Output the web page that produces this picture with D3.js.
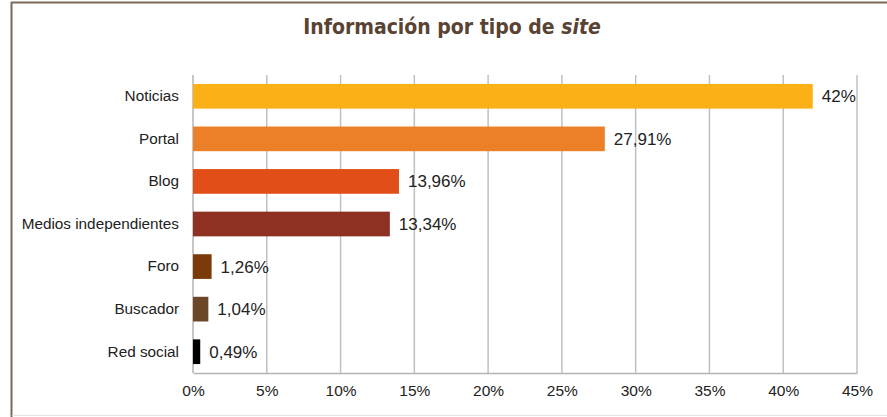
<!DOCTYPE html>
<html>
<head>
<meta charset="utf-8">
<script src="https://cdn.jsdelivr.net/npm/d3@7"></script>
<style>
	body { margin: 0; background: #ffffff; }
	svg { display: block; }
</style>
</head>
<body>
<script>
var categories = ["Noticias", "Portal", "Blog", "Medios independientes", "Foro", "Buscador", "Red social"];
var values = [42, 27.91, 13.96, 13.34, 1.26, 1.04, 0.49];
var valueLabels = ["42%", "27,91%", "13,96%", "13,34%", "1,26%", "1,04%", "0,49%"];
var barColors = ["#fbb018", "#eb8028", "#e24e17", "#8e3022", "#7b3a0a", "#6b4728", "#000000"];
var tickValues = [0, 5, 10, 15, 20, 25, 30, 35, 40, 45];

var width = 887;
var height = 417;
var margin = {top: 75, right: 30, bottom: 44, left: 193};
var labelFont = "'Liberation Sans', Arial, sans-serif";

var svg = d3.select("body").append("svg")
	.attr("width", width)
	.attr("height", height);

// frame
svg.append("line")
	.attr("x1", 11).attr("x2", width)
	.attr("y1", 2.5).attr("y2", 2.5)
	.attr("stroke", "#7a6a58").attr("stroke-width", 2);
svg.append("line")
	.attr("x1", 11.5).attr("x2", 11.5)
	.attr("y1", 2).attr("y2", height)
	.attr("stroke", "#7a6a58").attr("stroke-width", 2);
svg.append("line")
	.attr("x1", 12).attr("x2", width)
	.attr("y1", 415.5).attr("y2", 415.5)
	.attr("stroke", "#e4e4e4").attr("stroke-width", 1);

// title
var title = svg.append("text")
	.attr("x", 452)
	.attr("y", 34)
	.attr("text-anchor", "middle")
	.attr("fill", "#5a4332")
	.attr("font-family", "'DejaVu Sans Condensed', 'Liberation Sans Narrow', sans-serif")
	.attr("font-weight", "bold")
	.attr("font-size", "21px");
title.append("tspan").text("Información por tipo de ");
title.append("tspan").attr("font-style", "italic").text("site");

var x = d3.scaleLinear()
	.domain([0, 45])
	.range([margin.left, width - margin.right]);

var y = d3.scaleBand()
	.domain(categories)
	.range([margin.top, height - margin.bottom])
	.paddingInner(0.42)
	.paddingOuter(0.21);

// grid lines
svg.append("g")
	.selectAll("line")
	.data(tickValues.slice(1))
	.enter()
	.append("line")
	.attr("x1", function(d) { return x(d); })
	.attr("x2", function(d) { return x(d); })
	.attr("y1", margin.top)
	.attr("y2", height - margin.bottom)
	.attr("stroke", "#c0c0c0")
	.attr("stroke-width", 1.5);

// x axis
var xAxis = svg.append("g")
	.attr("transform", "translate(0," + (height - margin.bottom) + ")")
	.call(d3.axisBottom(x)
		.tickValues(tickValues)
		.tickSize(0)
		.tickPadding(12)
		.tickFormat(function(d) { return d + "%"; }));
xAxis.select(".domain").attr("stroke", "#b4b4b4").attr("stroke-width", 1.5);
xAxis.selectAll("text")
	.attr("font-family", labelFont)
	.attr("font-size", "15.5px")
	.attr("fill", "#222222");

// y axis line
svg.append("line")
	.attr("x1", margin.left).attr("x2", margin.left)
	.attr("y1", margin.top).attr("y2", height - margin.bottom)
	.attr("stroke", "#b4b4b4").attr("stroke-width", 1.5);

// y axis labels
var yAxis = svg.append("g")
	.attr("transform", "translate(" + margin.left + ",0)")
	.call(d3.axisLeft(y).tickSize(0).tickPadding(14));
yAxis.select(".domain").remove();
yAxis.selectAll("text")
	.attr("font-family", labelFont)
	.attr("font-size", "15.3px")
	.attr("fill", "#222222");

// bars
svg.append("g")
	.selectAll("rect")
	.data(values)
	.enter()
	.append("rect")
	.attr("x", x(0))
	.attr("y", function(d, i) { return y(categories[i]); })
	.attr("width", function(d) { return x(d) - x(0); })
	.attr("height", y.bandwidth())
	.attr("fill", function(d, i) { return barColors[i]; });

// value labels
svg.append("g")
	.selectAll("text")
	.data(values)
	.enter()
	.append("text")
	.text(function(d, i) { return valueLabels[i]; })
	.attr("x", function(d) { return x(d) + 9; })
	.attr("y", function(d, i) { return y(categories[i]) + y.bandwidth() / 2; })
	.attr("dy", "0.35em")
	.attr("font-family", labelFont)
	.attr("font-size", "17px")
	.attr("fill", "#222222");
</script>
</body>
</html>
